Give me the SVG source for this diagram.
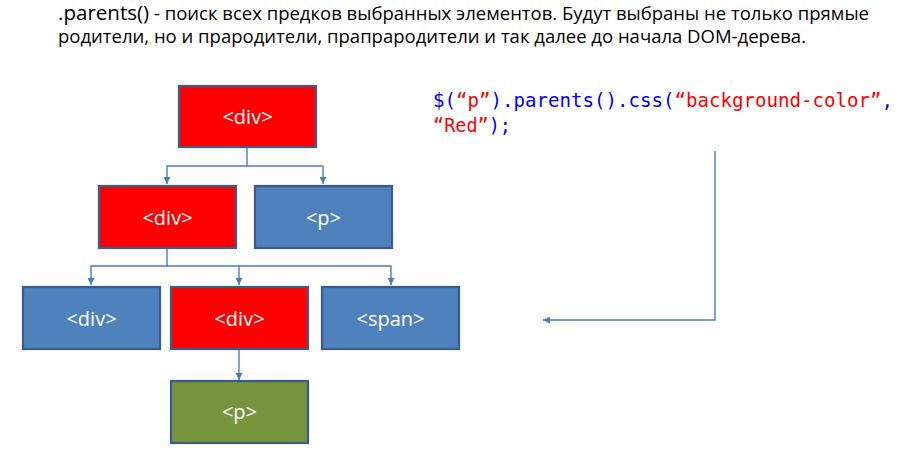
<svg xmlns="http://www.w3.org/2000/svg" width="909" height="450" viewBox="0 0 909 450">
<style>
.box{stroke:#385D8A;stroke-width:2.2}
.red{fill:#FF0000}
.blue{fill:#4F81BD}
.green{fill:#77933C}
.lbl{font-family:"Open Sans","Liberation Sans",sans-serif;font-size:20px;fill:#FFFFFF;text-anchor:middle}
.conn{fill:none;stroke:#4A7EBB;stroke-width:1.4}
.title{font-family:"Open Sans","Liberation Sans",sans-serif;fill:#000000}
.code{font-family:"DejaVu Sans Mono","Liberation Mono",monospace;font-size:18.7px}
</style>
<defs>
<marker id="ah" viewBox="0 0 10 10" refX="10" refY="5" markerWidth="5" markerHeight="5" orient="auto" markerUnits="strokeWidth">
<path d="M0,0 L10,5 L0,10 z" fill="#4A7EBB"/>
</marker>
</defs>
<rect width="909" height="450" fill="#FFFFFF"/>
<g id="title">
<text class="title" x="58" y="20" textLength="811" lengthAdjust="spacingAndGlyphs"><tspan font-size="20">.parents()</tspan><tspan font-size="18"> - поиск всех предков выбранных элементов. Будут выбраны не только прямые</tspan></text>
<text class="title" x="58" y="43" font-size="18" textLength="748" lengthAdjust="spacingAndGlyphs">родители, но и прародители, прапрародители и так далее до начала DOM-дерева.</text>
</g>
<g id="code">
<text class="code" x="433" y="107" textLength="460" lengthAdjust="spacingAndGlyphs"><tspan fill="#0000FF">$(</tspan><tspan fill="#FF0000">“p”</tspan><tspan fill="#0000FF">).parents().css(</tspan><tspan fill="#FF0000">“background-color”</tspan><tspan fill="#0000FF">,</tspan></text>
<text class="code" x="433" y="132" textLength="78" lengthAdjust="spacingAndGlyphs"><tspan fill="#FF0000">“Red”</tspan><tspan fill="#0000FF">);</tspan></text>
</g>
<g id="connectors">
<path class="conn" d="M247,148 V166 H167 V184" marker-end="url(#ah)"/>
<path class="conn" d="M247,166 H323 V184" marker-end="url(#ah)"/>
<path class="conn" d="M167,249 V266 H91 V285" marker-end="url(#ah)"/>
<path class="conn" d="M167,266 H239 V285" marker-end="url(#ah)"/>
<path class="conn" d="M239,266 H391 V285" marker-end="url(#ah)"/>
<path class="conn" d="M239,350 V380" marker-end="url(#ah)"/>
<path class="conn" d="M715,151 V320 H543" marker-end="url(#ah)"/>
</g>
<g id="node-div-root">
<rect class="box red" x="179" y="86" width="137" height="61"/>
<text class="lbl" x="247.5" y="124">&lt;div&gt;</text>
</g>
<g id="node-div-2">
<rect class="box red" x="99" y="186" width="137" height="62"/>
<text class="lbl" x="167.5" y="225">&lt;div&gt;</text>
</g>
<g id="node-p-2">
<rect class="box blue" x="255" y="186" width="137" height="62"/>
<text class="lbl" x="323.5" y="225">&lt;p&gt;</text>
</g>
<g id="node-div-3a">
<rect class="box blue" x="23" y="287" width="137" height="62"/>
<text class="lbl" x="91.5" y="326">&lt;div&gt;</text>
</g>
<g id="node-div-3b">
<rect class="box red" x="171" y="287" width="137" height="62"/>
<text class="lbl" x="239.5" y="326">&lt;div&gt;</text>
</g>
<g id="node-span-3">
<rect class="box blue" x="322" y="287" width="137" height="62"/>
<text class="lbl" x="390.5" y="326">&lt;span&gt;</text>
</g>
<g id="node-p-4">
<rect class="box green" x="171" y="381" width="137" height="62"/>
<text class="lbl" x="239.5" y="419">&lt;p&gt;</text>
</g>
</svg>
